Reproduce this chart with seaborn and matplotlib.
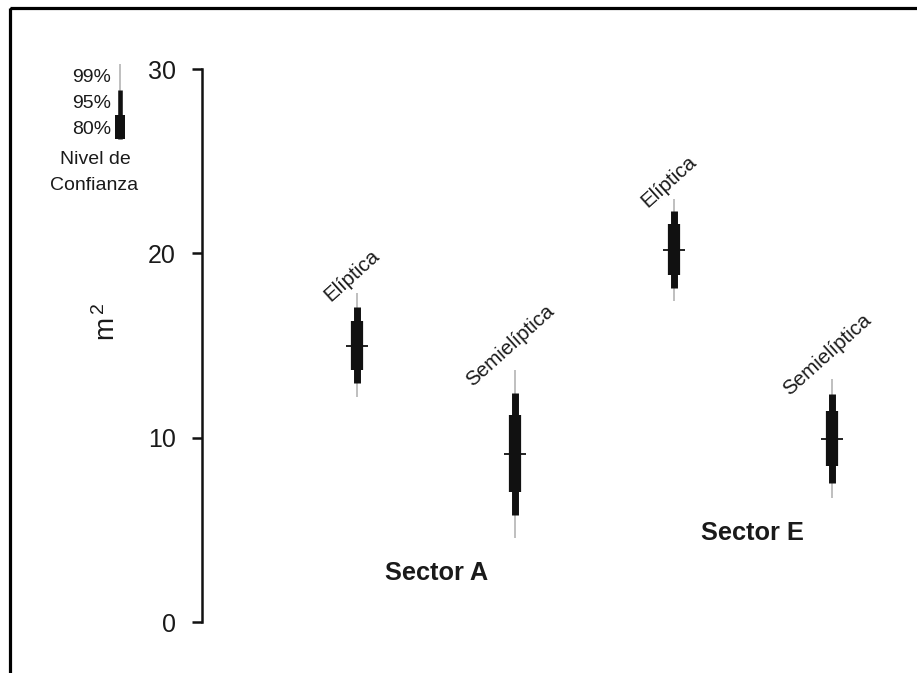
import matplotlib
matplotlib.use("Agg")
import matplotlib.pyplot as plt
from matplotlib.patches import Rectangle
import numpy as np
import pandas as pd
import seaborn as sns

# Datos: área (m²) por forma y sector, mediana e intervalos de confianza
formas = ["Elíptica", "Semielíptica", "Elíptica", "Semielíptica"]
sectores = ["A", "A", "E", "E"]
mediana = [15.0, 9.1, 20.2, 9.95]
lo80 = [13.67, 7.05, 18.83, 8.45]
hi80 = [16.35, 11.21, 21.58, 11.47]
lo95 = [12.95, 5.80, 18.10, 7.55]
hi95 = [17.07, 12.44, 22.32, 12.37]
lo99 = [12.22, 4.58, 17.42, 6.75]
hi99 = [17.83, 13.67, 22.93, 13.17]
yticks = [0, 10, 20, 30]
niveles = ["99%", "95%", "80%"]

df = pd.DataFrame({
    "forma": formas, "sector": sectores, "mediana": mediana,
    "lo80": lo80, "hi80": hi80, "lo95": lo95, "hi95": hi95,
    "lo99": lo99, "hi99": hi99,
})
df["pos"] = np.arange(1, len(df) + 1)

sns.set_theme(style="white")
plt.rcParams["font.family"] = ["Liberation Sans", "DejaVu Sans"]
plt.rcParams["mathtext.default"] = "regular"

W, H = 917, 673
fig = plt.figure(figsize=(W / 100, H / 100), dpi=100)
fig.patch.set_facecolor("white")

# Ejes principales
ax = fig.add_axes([202 / W, 13 / H, 715 / W, 620 / H])
ax.set_facecolor("none")
ax.set_xlim(0.0208, 4.537)
ax.set_ylim(-2.06, 31.58)

negro = "#111111"
gris = "#adadad"

ax.vlines(df["pos"], df["lo99"], df["hi99"], color=gris, lw=1.1, capstyle="butt", zorder=2)
ax.vlines(df["pos"], df["lo95"], df["hi95"], color=negro, lw=5.0, capstyle="butt", zorder=3)
ax.vlines(df["pos"], df["lo80"], df["hi80"], color=negro, lw=8.8, capstyle="butt", zorder=4)
sns.scatterplot(data=df, x="pos", y="mediana", marker="_", s=250, color=negro,
                linewidth=1.3, ax=ax, zorder=5, legend=False)

# Etiquetas de forma, rotadas sobre cada intervalo
desplaz = {"Elíptica": 0.95, "Semielíptica": 1.35}
for _, r in df.iterrows():
    ax.text(r["pos"] - 0.032, r["hi99"] + desplaz[r["forma"]], r["forma"],
            rotation=42, ha="center", va="center", fontsize=14.8, color="#1a1a1a")

# Etiquetas de sector, centradas bajo cada par
for s, g in df.groupby("sector"):
    ax.text(g["pos"].mean(), g["lo99"].min() - 1.9, f"Sector {s}",
            ha="center", va="center", fontsize=18.3, fontweight="bold", color="#1a1a1a")

ax.set_xlabel("")
ax.set_ylabel("")
ax.set_xticks([])
ax.set_yticks(yticks)
ax.set_yticklabels([str(t) for t in yticks])
ax.tick_params(axis="y", direction="out", length=7.2, width=1.8, color=negro,
               labelsize=18, labelcolor="#1a1a1a", pad=11.5, left=True)
for side in ["top", "right", "bottom"]:
    ax.spines[side].set_visible(False)
ax.spines["left"].set_bounds(0, 30)
ax.spines["left"].set_linewidth(1.8)
ax.spines["left"].set_color(negro)

fig.text(107 / W, 1 - 322 / H, "m$^{\\,2}$", rotation=90, ha="center", va="center",
         fontsize=20, color="#1a1a1a")

# Capa en píxeles: marco y leyenda de niveles de confianza
ov = fig.add_axes([0, 0, 1, 1])
ov.set_xlim(0, W)
ov.set_ylim(H, 0)
ov.axis("off")
ov.patch.set_visible(False)
ov.add_patch(Rectangle((9.5, 7.5), 1200, 1200, fill=False, lw=2.3, edgecolor="black"))

ov.vlines(120, 64, 139, color=gris, lw=1.1, capstyle="butt")
ov.vlines(120, 90, 139, color=negro, lw=3.3, capstyle="butt")
ov.vlines(120, 115, 139, color=negro, lw=7.2, capstyle="butt")
for lab, yc in zip(niveles, [78, 103.5, 129]):
    ov.text(111, yc, lab, ha="right", va="center", fontsize=14, color="#1a1a1a")
ov.text(95, 160, "Nivel de", ha="center", va="center", fontsize=14, color="#1a1a1a")
ov.text(94, 185, "Confianza", ha="center", va="center", fontsize=14, color="#1a1a1a")

fig.savefig("out.png", dpi=100)
